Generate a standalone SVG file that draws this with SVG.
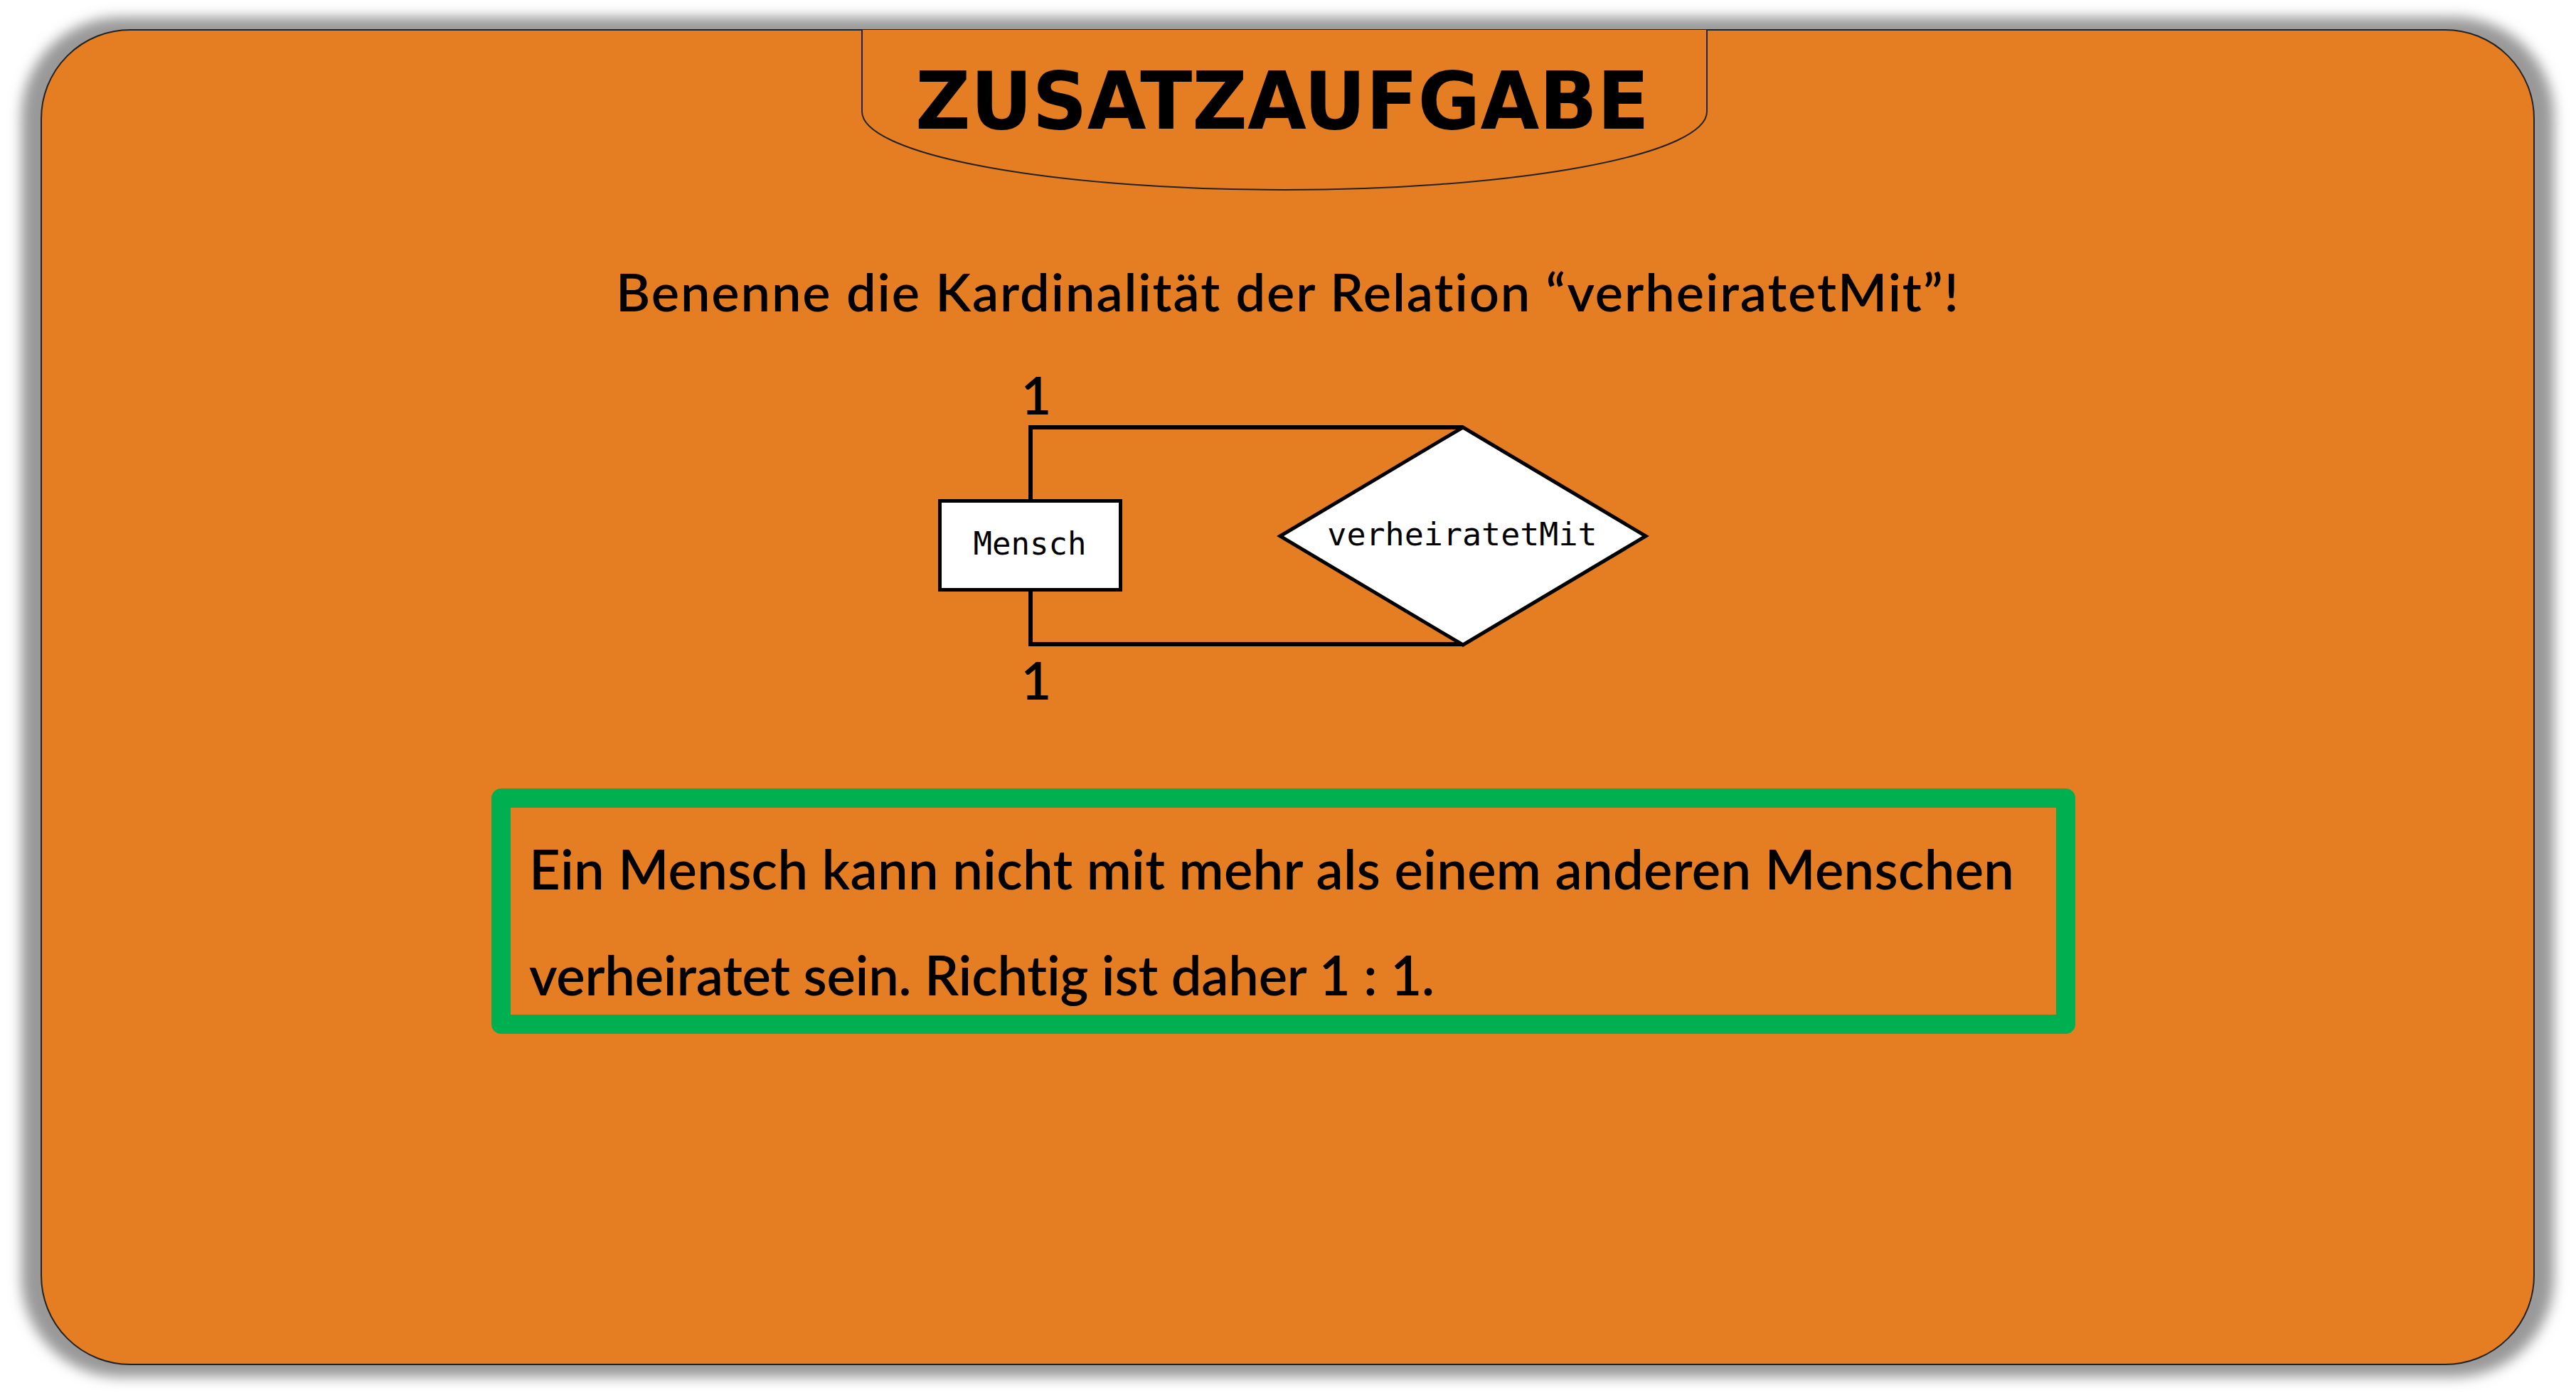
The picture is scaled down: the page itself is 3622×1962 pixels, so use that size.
<svg xmlns="http://www.w3.org/2000/svg" width="3622" height="1962" viewBox="0 0 3622 1962">
<style>
.lbl{font-family:Lato,"Source Sans Pro","Liberation Sans",sans-serif;fill:#000;font-weight:600;font-variant-ligatures:none}
.mono{font-family:"DejaVu Sans Mono","Liberation Mono",monospace;fill:#000;text-anchor:middle}
.conn{fill:none;stroke:#000;stroke-width:6}
.shape{fill:#fff;stroke:#000;stroke-width:5}
</style>
<defs>
<filter id="sh" x="-5%" y="-5%" width="110%" height="110%"><feGaussianBlur stdDeviation="9"/></filter>
</defs>
<rect width="3622" height="1962" fill="#fff"/>
<g id="card">
<rect x="30" y="24" width="3561" height="1913" rx="140" fill="#999" filter="url(#sh)"/>
<rect x="58" y="42" width="3505" height="1877" rx="125" fill="#E57E22" stroke="#222" stroke-width="2"/>
</g>
<g id="header">
<path d="M1212,42 V157 A594,110 0 0 0 2400,157 V42" fill="#E57E22" stroke="#222" stroke-width="2"/>
<text x="1803" y="181" text-anchor="middle" textLength="1032" lengthAdjust="spacingAndGlyphs" style="font-family:'DejaVu Sans','Liberation Sans',sans-serif;font-weight:bold;font-size:112px">ZUSATZAUFGABE</text>
</g>
<text id="question" class="lbl" x="866" y="438" font-size="74" textLength="1888">Benenne die Kardinalität der Relation “verheiratetMit”!</text>
<g id="connectors">
<path class="conn" d="M2057,601 H1449 V704"/>
<path class="conn" d="M1449,830 V906 H2057"/>
<text class="lbl" x="1457" y="583" font-size="74" text-anchor="middle">1</text>
<text class="lbl" x="1457" y="984" font-size="74" text-anchor="middle">1</text>
</g>
<g id="mensch">
<rect class="shape" x="1321.5" y="704.5" width="254" height="125"/>
<text class="mono" x="1448" y="780" font-size="44">Mensch</text>
</g>
<g id="verheiratetMit">
<polygon class="shape" points="1800,754 2057,601 2314,754 2057,907"/>
<text class="mono" x="2056" y="767" font-size="45">verheiratetMit</text>
</g>
<g id="answer">
<rect x="704.5" y="1122.5" width="2200" height="318" fill="none" stroke="#00AF50" stroke-width="27" stroke-linejoin="round"/>
<text class="lbl" x="744" y="1251" font-size="76" textLength="2088">Ein Mensch kann nicht mit mehr als einem anderen Menschen</text>
<text class="lbl" x="744" y="1400" font-size="76" textLength="1273">verheiratet sein. Richtig ist daher 1 : 1.</text>
</g>
</svg>
